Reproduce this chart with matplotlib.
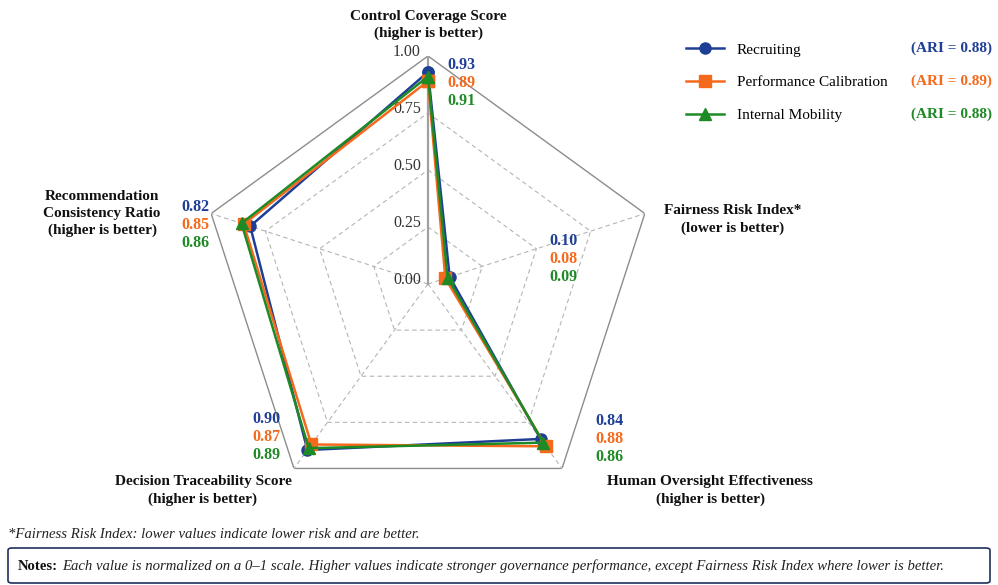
import matplotlib
matplotlib.use("Agg")
import matplotlib.pyplot as plt
import numpy as np
from matplotlib.lines import Line2D
from matplotlib.patches import FancyBboxPatch

plt.rcParams['font.family'] = ['Liberation Serif', 'DejaVu Serif']

# axes of the radar, clockwise from the top
categories = ["Control Coverage Score", "Fairness Risk Index*",
              "Human Oversight Effectiveness", "Decision Traceability Score",
              "Recommendation Consistency Ratio"]
hints = ["(higher is better)", "(lower is better)", "(higher is better)",
         "(higher is better)", "(higher is better)"]

series_names = ["Recruiting", "Performance Calibration", "Internal Mobility"]
recruiting = [0.93, 0.10, 0.84, 0.90, 0.82]
calibration = [0.89, 0.08, 0.88, 0.87, 0.85]
mobility = [0.91, 0.09, 0.86, 0.89, 0.86]
ari = [0.88, 0.89, 0.88]

ring_ticks = [0.0, 0.25, 0.5, 0.75, 1.0]

colors = ["#1f3f96", "#f5691c", "#1e8a25"]
markers = ["o", "s", "^"]

W, H = 998, 585
fig = plt.figure(figsize=(W / 100, H / 100), dpi=100)

# polar axes centred at (428, 284) px, radius 228 px
cx, cy, R = 428, 284, 228
ax = fig.add_axes([(cx - R) / W, (H - cy - R) / H, 2 * R / W, 2 * R / H],
                  projection='polar')
ax.set_theta_offset(np.pi / 2)
ax.set_theta_direction(-1)
ax.set_ylim(0, 1.0)
ax.grid(False)
ax.set_xticks([])
ax.set_yticks([])
ax.spines['polar'].set_visible(False)
ax.patch.set_alpha(0)

n = len(categories)
theta = np.linspace(0, 2 * np.pi, n, endpoint=False)
closed = np.append(theta, theta[0])

# pentagon rings and spokes
for r in ring_ticks[1:-1]:
    ax.plot(closed, [r] * (n + 1), color="#b5b5b5", lw=0.8, ls=(0, (4, 3)), zorder=1)
ax.plot(closed, [1.0] * (n + 1), color="#8c8c8c", lw=1.0, zorder=1)
for t in theta[1:]:
    ax.plot([t, t], [0, 1.0], color="#b5b5b5", lw=0.8, ls=(0, (4, 3)), zorder=1)
ax.plot([0, 0], [0, 1.0], color="#a0a0a0", lw=1.6, zorder=1)

for r in ring_ticks:
    ax.annotate(f"{r:.2f}", xy=(0, r), xytext=(-7, 4), textcoords='offset pixels',
                ha='right', va='center', fontsize=11.5, color="#333333")

# data
all_vals = [recruiting, calibration, mobility]
for vals, c, m, name in zip(all_vals, colors, markers, series_names):
    v = np.append(vals, vals[0])
    ax.plot(closed, v, color=c, lw=1.8, marker=m, ms=8, zorder=3, label=name,
            clip_on=False)

# value labels near each vertex: (dx, dy of first row, ha) in pixels
value_offsets = [(19, -9, 'left'), (-95, -27, 'left'), (33, 47, 'left'),
                 (-13, 49, 'right'), (-2, 7, 'right')]
for i, (dx, dy, ha) in enumerate(value_offsets):
    for k, (vals, c) in enumerate(zip(all_vals, colors)):
        ax.annotate(f"{vals[i]:.2f}", xy=(theta[i], 1.0),
                    xytext=(dx, dy - 18 * k), textcoords='offset pixels',
                    ha=ha, va='center', fontsize=11.5, fontweight='bold',
                    color=c, annotation_clip=False)

# category labels
label_offsets = [(0, 31), (88, -6), (148, -22), (-91, -22), (-109, 0)]
label_texts = [f"{categories[0]}\n{hints[0]}",
               f"{categories[1]}\n{hints[1]}",
               f"{categories[2]}\n{hints[2]}",
               f"{categories[3]}\n{hints[3]}",
               "Recommendation\nConsistency Ratio\n" + hints[4]]
for i, ((dx, dy), txt) in enumerate(zip(label_offsets, label_texts)):
    ax.annotate(txt, xy=(theta[i], 1.0), xytext=(dx, dy),
                textcoords='offset pixels', ha='center', va='center',
                fontsize=11, fontweight='bold', color="#111111",
                linespacing=1.4, annotation_clip=False)

# legend with ARI column
handles = [Line2D([0], [0], color=c, marker=m, lw=1.8, ms=8)
           for c, m in zip(colors, markers)]
fig.legend(handles, series_names, loc='upper left',
           bbox_to_anchor=(680 / W, 1 - 37 / H), frameon=False,
           fontsize=11, handlelength=2.5, labelspacing=1.24,
           handletextpad=0.8, borderaxespad=0)
for k, (a, c) in enumerate(zip(ari, colors)):
    fig.text(992 / W, 1 - (48 + 33 * k) / H, f"(ARI = {a:.2f})", ha='right',
             va='center', fontsize=11, fontweight='bold', color=c)

# footnote and notes box
fig.text(8 / W, 1 - 535 / H,
         "*Fairness Risk Index: lower values indicate lower risk and are better.",
         ha='left', va='center', fontsize=10.6, style='italic', color="#222222")

box = FancyBboxPatch((8 / W, 1 - 583 / H), 982 / W, 35 / H,
                     boxstyle="round,pad=0,rounding_size=0.004",
                     transform=fig.transFigure, facecolor='white',
                     edgecolor="#1f2f5f", lw=1.2)
fig.patches.append(box)
notes_head = fig.text(18 / W, 1 - 566 / H, "Notes:", ha='left', va='center',
                      fontsize=10.6, fontweight='bold', color="#111111")
fig.canvas.draw()
ext = notes_head.get_window_extent(fig.canvas.get_renderer())
fig.text(ext.x1 / W + 4 / W, 1 - 566 / H,
         "Each value is normalized on a 0\u20131 scale. Higher values indicate stronger "
         "governance performance, except Fairness Risk Index where lower is better.",
         ha='left', va='center', fontsize=10.6, style='italic', color="#222222")

fig.savefig("out.png", dpi=100, facecolor='white')
